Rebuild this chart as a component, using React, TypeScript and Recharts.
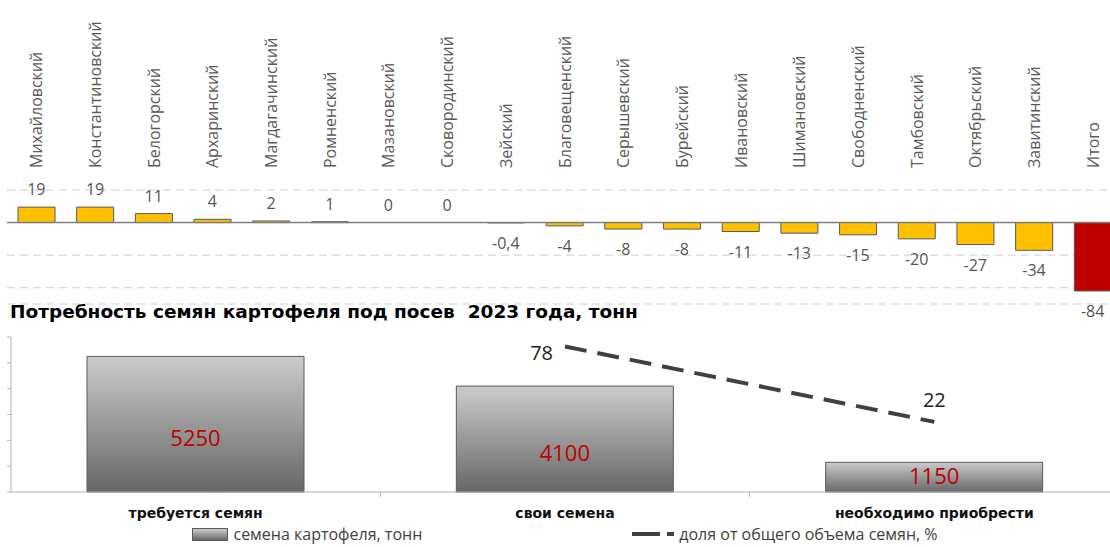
import React from "react";
import {
  Bar,
  CartesianGrid,
  Cell,
  ComposedChart,
  LabelList,
  Line,
  ReferenceLine,
  XAxis,
  YAxis,
} from "recharts";

// --- top chart: balance by district ---
const districts = [
  "Михайловский",
  "Константиновский",
  "Белогорский",
  "Архаринский",
  "Магдагачинский",
  "Ромненский",
  "Мазановский",
  "Сковородинский",
  "Зейский",
  "Благовещенский",
  "Серышевский",
  "Бурейский",
  "Ивановский",
  "Шимановский",
  "Свободненский",
  "Тамбовский",
  "Октябрьский",
  "Завитинский",
  "Итого",
];
const balance = [19, 19, 11, 4, 2, 1, 0, 0, -0.4, -4, -8, -8, -11, -13, -15, -20, -27, -34, -84];
const balanceTicks = [-100, -80, -60, -40, -20, 0, 20, 40];

// --- bottom chart: seed potato need ---
const seedTitle = "Потребность семян картофеля под посев  2023 года, тонн";
const seedCategories = ["требуется семян", "свои семена", "необходимо приобрести"];
const seedTonnes = [5250, 4100, 1150];
const seedShare: (number | null)[] = [null, 78, 22];
const tonneTicks = [0, 1000, 2000, 3000, 4000, 5000, 6000];
const legendBars = "семена картофеля, тонн";
const legendLine = "доля от общего объема семян, %";

const balanceRows = districts.map((name, i) => ({ name, value: balance[i] }));
const seedRows = seedCategories.map((name, i) => ({
  name,
  tonnes: seedTonnes[i],
  share: seedShare[i],
}));

const LIGHT = "'Open Sans', 'Noto Sans', sans-serif";
const BOLD = "'DejaVu Sans', sans-serif";

const SEED_W = 1130;
const SEED_LEFT = 11;
const SEED_RIGHT = 11;
const seedBand = (SEED_W - SEED_LEFT - SEED_RIGHT) / seedCategories.length;

function DistrictTick(props: any) {
  const { x, y, payload } = props;
  const ty = y - 14;
  return (
    <text
      x={x}
      y={ty}
      transform={`rotate(-90 ${x} ${ty})`}
      textAnchor="start"
      dominantBaseline="central"
      fill="#5a5a5a"
      fontSize={16}
      fontFamily={LIGHT}
    >
      {payload.value}
    </text>
  );
}

// labels ride on an invisible line whose points sit at the bar ends
function BalanceLabel(props: any) {
  const { x, y, value } = props;
  if (value == null) return null;
  return (
    <text
      x={x}
      y={value >= 0 ? y - 18 : y + 20}
      textAnchor="middle"
      dominantBaseline="central"
      fill="#555"
      fontSize={16}
      fontFamily={LIGHT}
    >
      {String(value).replace(".", ",")}
    </text>
  );
}

function SeedTick(props: any) {
  const { x, y, payload, index } = props;
  return (
    <g>
      {index > 0 && (
        <line x1={x - seedBand / 2} x2={x - seedBand / 2} y1={y} y2={y + 5} stroke="#b0b0b0" />
      )}
      <text
        x={x}
        y={y + 21}
        textAnchor="middle"
        dominantBaseline="central"
        fill="#111"
        fontSize={14}
        fontWeight="bold"
        fontFamily={BOLD}
      >
        {payload.value}
      </text>
    </g>
  );
}

function TonneLabel(props: any) {
  const { x, y, width, height, value } = props;
  const cy = y + height / 2 + (height > 60 ? 13 : -2);
  return (
    <text
      x={x + width / 2}
      y={cy}
      textAnchor="middle"
      dominantBaseline="central"
      fill="#c00000"
      fontSize={22}
      fontFamily={LIGHT}
    >
      {value}
    </text>
  );
}

function ShareLabel(props: any) {
  const { x, y, value, index } = props;
  if (value == null) return null;
  const first = index === 1;
  return (
    <text
      x={first ? x - 12 : x}
      y={first ? y + 6 : y - 22}
      textAnchor={first ? "end" : "middle"}
      dominantBaseline="central"
      fill="#222"
      fontSize={20}
      fontFamily={LIGHT}
    >
      {value}
    </text>
  );
}

export default function App() {
  return (
    <div
      style={{
        position: "absolute",
        left: 0,
        top: 0,
        width: 1110,
        height: 547,
        overflow: "hidden",
        background: "#fff",
      }}
    >
      <div style={{ position: "absolute", left: 0, top: 0 }}>
        <ComposedChart
          width={1130}
          height={330}
          data={balanceRows}
          margin={{ top: 0, right: 8, left: 7, bottom: 26 }}
          barSize={37}
        >
          <CartesianGrid vertical={false} stroke="#cfcfcf" strokeDasharray="8 5" />
          <XAxis
            dataKey="name"
            orientation="top"
            height={190}
            axisLine={false}
            tickLine={false}
            interval={0}
            tick={DistrictTick}
          />
          <YAxis hide domain={[-100, 40]} ticks={balanceTicks} />
          <ReferenceLine y={0} stroke="#7f7f7f" strokeWidth={1.5} />
          <Bar dataKey="value" stroke="#595959" strokeWidth={1} isAnimationActive={false}>
            {balanceRows.map((r, i) => (
              <Cell key={r.name} fill={i === balanceRows.length - 1 ? "#c00000" : "#ffc000"} />
            ))}
          </Bar>
          <Line
            dataKey="value"
            stroke="none"
            dot={false}
            activeDot={false}
            legendType="none"
            isAnimationActive={false}
          >
            <LabelList dataKey="value" content={BalanceLabel} />
          </Line>
        </ComposedChart>
      </div>

      <div
        style={{
          position: "absolute",
          left: 10,
          top: 301,
          fontFamily: BOLD,
          fontWeight: "bold",
          fontSize: 18.5,
          color: "#000",
          whiteSpace: "pre",
        }}
      >
        {seedTitle}
      </div>

      <div style={{ position: "absolute", left: 0, top: 320 }}>
        <ComposedChart
          width={SEED_W}
          height={212}
          data={seedRows}
          margin={{ top: 17, right: SEED_RIGHT, left: 0, bottom: 0 }}
        >
          <defs>
            <linearGradient id="seedGrad" x1="0" y1="0" x2="0" y2="1">
              <stop offset="0%" stopColor="#cbcbcb" />
              <stop offset="100%" stopColor="#676767" />
            </linearGradient>
          </defs>
          <XAxis
            dataKey="name"
            height={40}
            stroke="#b0b0b0"
            tickLine={false}
            tickSize={0}
            tickMargin={0}
            interval={0}
            tick={SeedTick}
          />
          <YAxis
            yAxisId="t"
            width={SEED_LEFT}
            domain={[0, 6000]}
            ticks={tonneTicks}
            stroke="#b0b0b0"
            tickSize={4}
            tick={() => <g />}
          />
          <YAxis yAxisId="p" orientation="right" hide domain={[-30, 85]} />
          <Bar
            yAxisId="t"
            dataKey="tonnes"
            barSize={217}
            fill="url(#seedGrad)"
            stroke="#5a5a5a"
            strokeWidth={1}
            isAnimationActive={false}
          >
            <LabelList dataKey="tonnes" content={TonneLabel} />
          </Bar>
          <Line
            yAxisId="p"
            dataKey="share"
            stroke="#404040"
            strokeWidth={4}
            strokeDasharray="22 11"
            dot={false}
            activeDot={false}
            isAnimationActive={false}
          >
            <LabelList dataKey="share" content={ShareLabel} />
          </Line>
        </ComposedChart>
      </div>

      <div
        style={{
          position: "absolute",
          left: 0,
          top: 526,
          width: 1130,
          display: "flex",
          justifyContent: "center",
          gap: 210,
          fontFamily: LIGHT,
          fontSize: 16,
          lineHeight: "16px",
          color: "#404040",
          whiteSpace: "nowrap",
        }}
      >
        <div style={{ display: "flex", alignItems: "center", gap: 5 }}>
          <div
            style={{
              width: 34,
              height: 11,
              border: "1px solid #5a5a5a",
              background: "linear-gradient(#cbcbcb, #676767)",
            }}
          />
          <span>{legendBars}</span>
        </div>
        <div style={{ display: "flex", alignItems: "center", gap: 5 }}>
          <svg width={42} height={12}>
            <line x1={0} x2={42} y1={6} y2={6} stroke="#404040" strokeWidth={4} strokeDasharray="28 7 7" />
          </svg>
          <span>{legendLine}</span>
        </div>
      </div>
    </div>
  );
}
